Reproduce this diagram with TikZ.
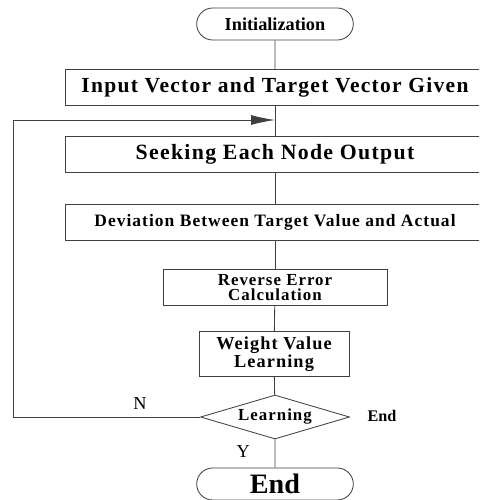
\documentclass[tikz,border=0pt]{standalone}
\usepackage{fontspec}
\setmainfont{Liberation Serif}
\newfontfamily\wide[LetterSpace=6]{Liberation Serif}
\newcommand{\fsz}[2]{\fontsize{#1}{#2}\selectfont}
\usepackage{tikz}
\usetikzlibrary{arrows.meta, shapes, positioning}
\tikzstyle{line} = [draw=black!75, line width=0.6pt]
\tikzstyle{terminal} = [rounded rectangle, draw=black!75, line width=0.6pt, minimum width=4.15cm, minimum height=0.8cm]
\tikzstyle{process} = [rectangle, draw=black!75, line width=0.6pt, minimum height=0.9cm, align=center]
\tikzstyle{decision} = [diamond, aspect=3.4, draw=black!75, line width=0.6pt, inner sep=0.5pt]

\begin{document}
\begin{tikzpicture}
				\useasboundingbox (0, 0) rectangle (11.975, -12.5);
				\clip (0, 0) rectangle (11.975, -12.5);

				\node (Init) [terminal, font=\bfseries\fsz{13}{15}] at (6.875, -0.6) {Initialization};

				\node (Given) [process, minimum width=10.5cm, font=\wide\bfseries\fsz{15.3}{17}] at (6.875, -2.19) {Input Vector and Target Vector Given};
				\draw [line] (Init) -- (Given);

				\node (Seek) [process, minimum width=10.5cm, font=\wide\bfseries\fsz{15.5}{17}] at (6.875, -3.86) {Seeking Each Node Output};
				\draw [line] (Given) -- (Seek);

				\node (Dev) [process, minimum width=10.5cm, font=\wide\bfseries\fsz{12.4}{14}] at (6.875, -5.55) {Deviation Between Target Value and Actual};
				\draw [line] (Seek) -- (Dev);

				\node (Reverse) [process, minimum width=5.6cm, font=\wide\bfseries\fsz{12}{11.2}] at (6.875, -7.19) {Reverse Error\\Calculation};
				\draw [line] (Dev) -- (Reverse);

				\node (Weight) [process, minimum width=3.75cm, font=\wide\bfseries\fsz{13}{10.5}] at (6.85, -8.85) {Weight Value\\Learning};
				\draw [line] (Reverse) -- (Weight);

				% the check
				\node (Learn) [decision, minimum width=3.725cm, minimum height=1.1cm, font=\wide\bfseries\fsz{12}{14}] at (6.875, -10.425) {Learning};
				\draw [line] (Weight) -- (Learn);

				\node (End) [terminal, font=\bfseries\fsz{20}{22}] at (6.875, -12.1) {End};
				\draw [line] (Learn) -- (End);

				% feedback loop
				\coordinate (LoopLow) at (0.325, -10.425);
				\coordinate (LoopHigh) at (0.325, -3.0);
				\coordinate (LoopIn) at (6.875, -3.0);
				\draw [line, -{Latex[length=0.6cm, width=0.25cm]}] (Learn) -- (LoopLow) -- (LoopHigh) -- (LoopIn);

				% labels
				\node (No) [font=\fsz{13}{15}] at (3.5, -10.1) {N};
				\node (Yes) [font=\fsz{13}{15}] at (6.08, -11.3) {Y};
				\node (Done) [font=\bfseries\fsz{11.5}{13}] at (9.55, -10.4) {End};
\end{tikzpicture}
\end{document}
